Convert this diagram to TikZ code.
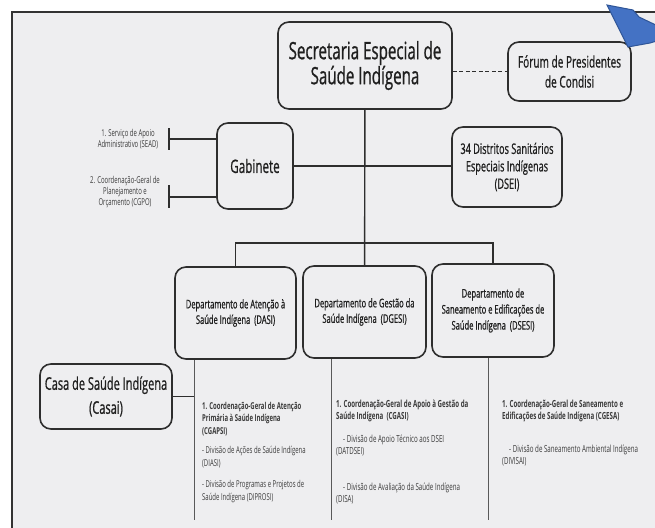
\documentclass[tikz,border=0pt]{standalone}
\usepackage{fontspec}
\setmainfont{Open Sans}[FakeStretch=0.63]
\newfontfamily\boxfont{Open Sans}[FakeStretch=0.63, FakeBold=0.8]
\usepackage{tikz}
\definecolor{panelgray}{HTML}{EEEEF0}
\definecolor{boxline}{HTML}{2E2E2E}
\definecolor{notegray}{HTML}{3A3A3A}
\definecolor{arrowblue}{HTML}{4472C4}
\definecolor{arrowedge}{HTML}{2F5597}

\begin{document}
\begin{tikzpicture}[x=1pt, y=-1pt,
  box/.style={draw=boxline, line width=1.6pt, rounded corners=11pt, fill=panelgray,
              align=center, inner sep=2pt, text=black!88},
  link/.style={boxline, line width=1.4pt},
  drop/.style={black!65, line width=1pt},
  note/.style={align=left, anchor=north west, inner sep=0pt, text=notegray,
               font=\fontsize{9.5}{12.5}\selectfont},
  side/.style={align=center, inner sep=0pt, text=notegray,
               font=\fontsize{9.5}{11}\selectfont}]
\useasboundingbox (0,0) rectangle (655,527);
\clip (0,0) rectangle (655,527);
\fill[white] (0,0) rectangle (655,527);
\draw[fill=panelgray, draw=black!80, line width=2pt] (12,12) rectangle (680,560);

% upper boxes
\node[box, minimum width=174, minimum height=87, font=\boxfont\fontsize{24}{25}\selectfont] (sesai) at (365,65.5) {Secretaria Especial de\\Saúde Indígena};
\node[box, minimum width=123, minimum height=59, font=\boxfont\fontsize{16}{20}\selectfont] (forum) at (569.5,71.5) {Fórum de Presidentes\\de Condisi};
\node[box, minimum width=76, minimum height=86, font=\boxfont\fontsize{18.5}{20}\selectfont] (gab) at (255,166) {Gabinete};
\node[box, minimum width=110, minimum height=80, font=\boxfont\fontsize{14.5}{17.5}\selectfont] (dsei) at (507,167) {34 Distritos Sanitários\\Especiais Indígenas\\(DSEI)};

% departments
\node[box, minimum width=121, minimum height=92, font=\boxfont\fontsize{12}{15.5}\selectfont] (dasi) at (235.5,313) {Departamento de Atenção à\\Saúde Indígena\ \ (DASI)};
\node[box, minimum width=123, minimum height=92, font=\boxfont\fontsize{12}{15.5}\selectfont] (dgesi) at (364.5,312) {Departamento de Gestão da\\Saúde Indígena\ \ (DGESI)};
\node[box, minimum width=122, minimum height=93, font=\boxfont\fontsize{12}{16}\selectfont] (dsesi) at (493,310.5) {Departamento de\\Saneamento e Edificações de\\Saúde Indígena\ \ (DSESI)};
\node[box, minimum width=132, minimum height=65, font=\boxfont\fontsize{17.5}{24}\selectfont] (casai) at (106,396.5) {Casa de Saúde Indígena\\(Casai)};

% gabinete units
\node[side] (sead) at (128,139) {1. Serviço de Apoio\\Administrativo (SEAD)};
\node[side] (cgpo) at (125,192) {2. Coordenação-Geral de\\Planejamento e\\Orçamento (CGPO)};

% coordinations
\node[note] (cgapsi) at (202,402) {\textbf{1. Coordenação-Geral de Atenção}\\\textbf{Primária à Saúde Indígena}\\\textbf{(CGAPSI)}\\[7pt]- Divisão de Ações de Saúde Indígena\\(DIASI)\\[9pt]- Divisão de Programas e Projetos de\\Saúde Indígena (DIPROSI)};
\node[note, font=\fontsize{9.8}{12}\selectfont] (cgasi) at (336,400) {\textbf{1. Coordenação-Geral de Apoio à Gestão da}\\\textbf{Saúde Indígena\ \ (CGASI)}\\[11pt]\hspace*{7pt}- Divisão de Apoio Técnico aos DSEI\\(DATDSEI)\\[24pt]\hspace*{7pt}- Divisão de Avaliação da Saúde Indígena\\(DISA)};
\node[note, font=\fontsize{9.8}{12}\selectfont] (cgesa) at (502,400) {\textbf{1. Coordenação-Geral de Saneamento e}\\\textbf{Edificações de Saúde Indígena (CGESA)}\\[21pt]\hspace*{7pt}- Divisão de Saneamento Ambiental Indígena\\(DIVISAI)};

% connectors
\coordinate (bus) at (364,243);
\draw[link] (sesai) -- (dgesi);
\draw[link] (dasi.north) |- (bus) -| (dsesi.north);
\draw[link] (gab) -- (gab -| dsei.west);
\draw[link, dashed, dash pattern=on 4pt off 2.5pt] (forum.west -| sesai.east) -- (forum.west);

\coordinate (tsead) at (169,139);
\coordinate (tcgpo) at (169,197);
\draw[link] (tsead) -- (tsead -| gab.west);
\draw[link] ([yshift=11pt]tsead) -- ([yshift=-11pt]tsead);
\draw[link] (tcgpo) -- (tcgpo -| gab.west);
\draw[link] ([yshift=12pt]tcgpo) -- ([yshift=-11pt]tcgpo);

\coordinate (dasiend) at (194,520);
\coordinate (dgesiend) at (331,520);
\coordinate (dsesiend) at (488,520);
\draw[drop] (dasi.south -| dasiend) -- (dasiend);
\draw[drop] (dgesi.south -| dgesiend) -- (dgesiend);
\draw[drop] (dsesi.south -| dsesiend) -- (dsesiend);
\draw[link] (casai.east) -- (casai.east -| dasiend);

% blue pointer
\filldraw[fill=arrowblue, draw=arrowedge, line width=1pt] (607,5) -- (633,10) -- (639,17) -- (660,27) -- (660,40) -- (650,43) -- (628,47) -- cycle;
\end{tikzpicture}
\end{document}
